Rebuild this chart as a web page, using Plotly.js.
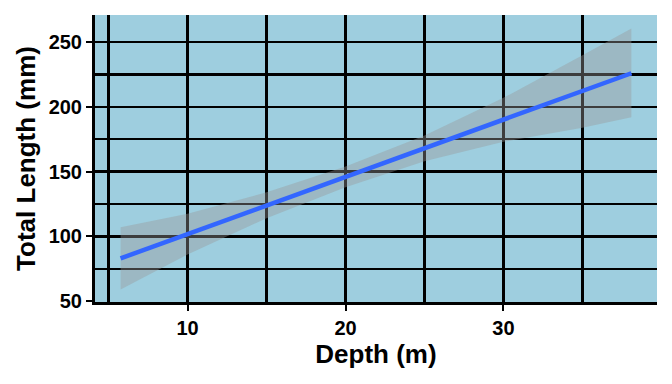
<!DOCTYPE html>
<html>
<head>
<meta charset="utf-8">
<script src="https://cdn.plot.ly/plotly-3.0.1.min.js"></script>
<style>html,body{margin:0;padding:0;background:#fff;}#chart{width:672px;height:384px;}</style>
</head>
<body>
<div id="chart"></div>
<script>
// Depth (m) at which the fitted line and band are read
const depth = [5.76, 10, 15, 20, 25, 30, 35, 38.1];
// Fitted total length (mm)
const fitLength = [83, 101.7, 123.8, 145.9, 168, 190.1, 212.2, 226];
// Confidence band
const upperLength = [107, 117.5, 134, 154, 178, 207, 240, 260.5];
const lowerLength = [59, 86, 114, 138, 158, 173, 184, 192];

const xTickVals = [10, 20, 30];
const yTickVals = [50, 100, 150, 200, 250];

const traces = [
  {
    x: depth, y: lowerLength, type: 'scatter', mode: 'lines',
    line: {width: 0, color: 'rgba(0,0,0,0)'}, hoverinfo: 'skip', showlegend: false
  },
  {
    x: depth, y: upperLength, type: 'scatter', mode: 'lines',
    fill: 'tonexty', fillcolor: 'rgba(153,153,153,0.4)',
    line: {width: 0, color: 'rgba(0,0,0,0)'}, hoverinfo: 'skip', showlegend: false
  },
  {
    x: depth, y: fitLength, type: 'scatter', mode: 'lines',
    line: {color: '#3366FF', width: 4.5}, showlegend: false
  }
];

const fam = 'Liberation Sans, Arial, sans-serif';

const layout = {
  width: 672, height: 384,
  margin: {l: 95, r: 15, t: 15, b: 82},
  paper_bgcolor: '#ffffff',
  plot_bgcolor: '#9ECEDF',
  font: {family: fam, color: '#000'},
  showlegend: false,
  xaxis: {
    range: [4.14, 39.72],
    tickvals: xTickVals,
    ticktext: xTickVals.map(String),
    showgrid: true, gridcolor: '#000', gridwidth: 2.4,
    minor: {dtick: 5, tick0: 0, showgrid: true, gridcolor: '#000', gridwidth: 2.2},
    zeroline: false,
    showline: true, linecolor: '#000', linewidth: 3,
    ticks: 'outside', ticklen: 6, tickwidth: 2, tickcolor: '#000',
    tickfont: {family: fam, size: 20, color: '#000', weight: 'bold'},
    title: {text: '<b>Depth (m)</b>', font: {family: fam, size: 26, color: '#000'}, standoff: 6}
  },
  yaxis: {
    range: [49.3, 271],
    tickvals: yTickVals,
    ticktext: yTickVals.map(String),
    showgrid: true, gridcolor: '#000', gridwidth: 2.4,
    minor: {tickvals: [75, 125, 175, 225], showgrid: true, gridcolor: '#000', gridwidth: 2.2},
    zeroline: false,
    showline: true, linecolor: '#000', linewidth: 3,
    ticks: 'outside', ticklen: 6, tickwidth: 2, tickcolor: '#000',
    tickfont: {family: fam, size: 20, color: '#000', weight: 'bold'},
    title: {text: '<b>Total Length (mm)</b>', font: {family: fam, size: 26, color: '#000'}, standoff: 6}
  }
};

Plotly.newPlot('chart', traces, layout, {displayModeBar: false, staticPlot: true});
</script>
</body>
</html>
